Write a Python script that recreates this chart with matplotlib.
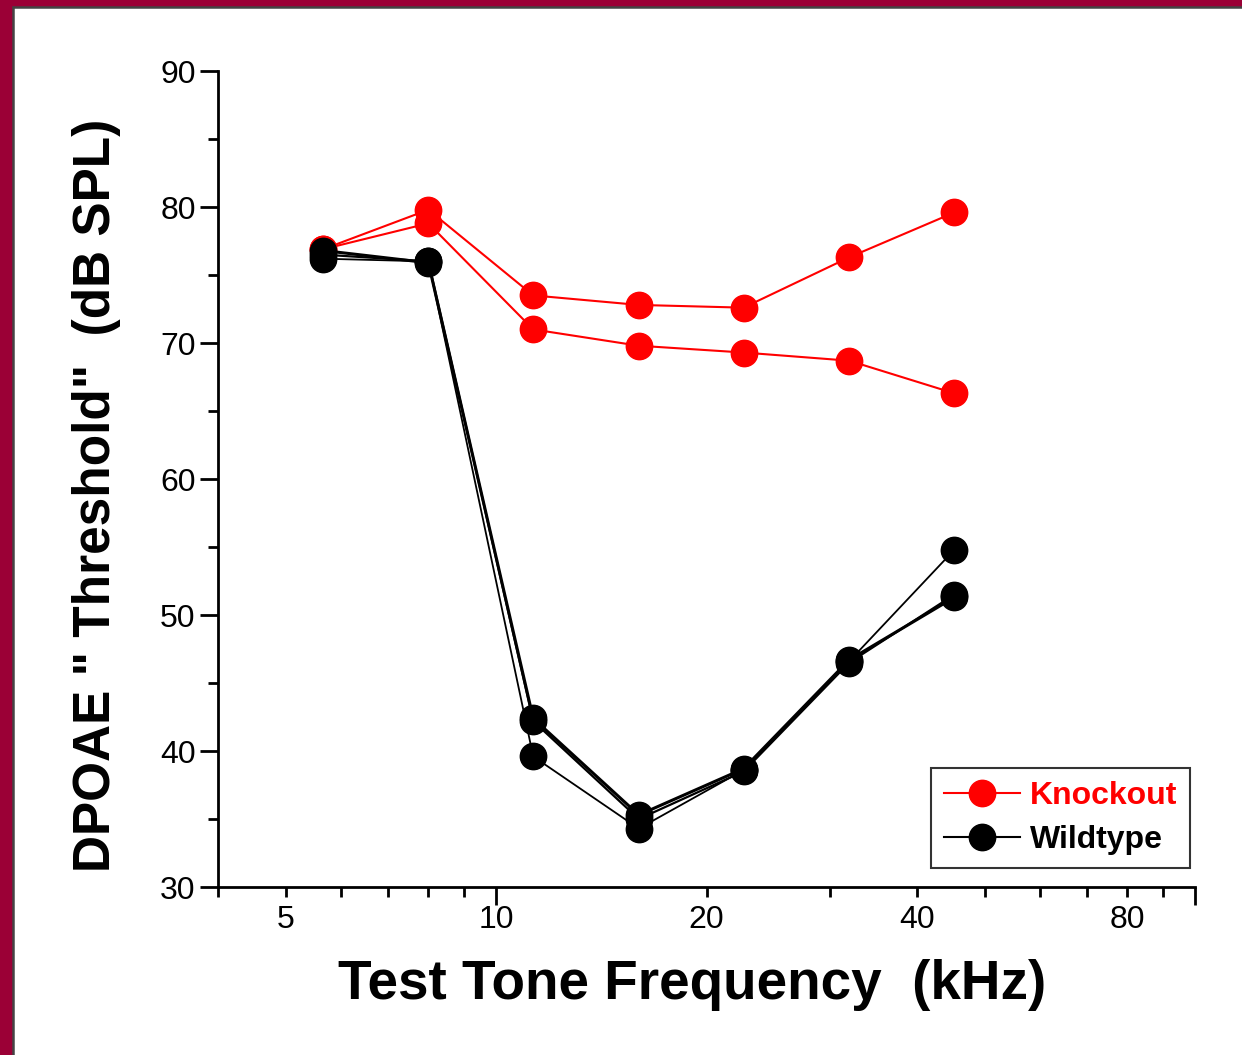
import numpy as np
import matplotlib.pyplot as plt
from matplotlib.patches import Rectangle
from matplotlib.lines import Line2D
from matplotlib.ticker import LogLocator, FixedLocator, FixedFormatter, MultipleLocator

plt.rcParams['font.family'] = ['Liberation Sans', 'DejaVu Sans']

# test frequencies (kHz), half-octave steps
freq = [5.66, 8.0, 11.3, 16.0, 22.6, 32.0, 45.25]

# DPOAE thresholds (dB SPL)
ko_a = [76.9, 79.8, 73.5, 72.8, 72.6, 76.3, 79.6]
ko_b = [76.9, 78.8, 71.0, 69.8, 69.3, 68.7, 66.3]
wt_a = [76.8, 75.9, 42.4, 35.3, 38.7, 46.7, 51.3]
wt_b = [76.5, 76.0, 42.2, 35.0, 38.5, 46.5, 51.5]
wt_c = [76.2, 76.0, 39.6, 34.3, 38.6, 46.6, 54.8]

xtick_vals = [5, 10, 20, 40, 80]
xtick_labels = ['5', '10', '20', '40', '80']

RED = '#ff0000'
fig = plt.figure(figsize=(12.42, 10.55), dpi=100)

# maroon frame on top and left edges
fig.patches.append(Rectangle((0, 0), 1, 1, transform=fig.transFigure,
                             facecolor='#9b0036', edgecolor='none', zorder=0))
fig.patches.append(Rectangle((0.0105, -0.05), 1.05, 1.043, transform=fig.transFigure,
                             facecolor='white', edgecolor='#444444', lw=1.8, zorder=1))

ax = fig.add_axes([0.1755, 0.1592, 0.7867, 0.7735])
ax.set_zorder(2)
ax.patch.set_alpha(0)

ms = 19
for y in (ko_a, ko_b):
    ax.plot(freq, y, '-o', color=RED, lw=1.5, ms=ms, zorder=3)
ax.plot(freq, wt_a, '-o', color='black', lw=2.2, ms=ms, zorder=4)
ax.plot(freq, wt_b, '-o', color='black', lw=1.6, ms=ms, zorder=4)
ax.plot(freq, wt_c, '-o', color='black', lw=1.3, ms=ms, zorder=4)

ax.set_xscale('log')
ax.set_xlim(4, 100)
ax.set_ylim(30, 90)

ax.xaxis.set_major_locator(FixedLocator([10, 100]))
ax.xaxis.set_major_formatter(FixedFormatter(['', '']))
ax.xaxis.set_minor_locator(LogLocator(base=10, subs=np.arange(2, 10)))
ax.xaxis.set_minor_formatter(plt.NullFormatter())
for v, lab in zip(xtick_vals, xtick_labels):
    ax.text(v, -0.022, lab, transform=ax.get_xaxis_transform(),
            ha='center', va='top', fontsize=23)

ax.yaxis.set_major_locator(MultipleLocator(10))
ax.yaxis.set_minor_locator(MultipleLocator(5))

for s in ('top', 'right'):
    ax.spines[s].set_visible(False)
for s in ('left', 'bottom'):
    ax.spines[s].set_linewidth(2)

ax.tick_params(which='major', length=13, width=2, direction='out', labelsize=23, pad=3)
ax.tick_params(which='minor', length=7, width=2, direction='out')

fig.text(0.557, 1 - 985 / 1055, 'Test Tone Frequency  (kHz)', fontsize=39.5,
         fontweight='bold', ha='center', va='center')
fig.text(97 / 1242, 1 - 495 / 1055, 'DPOAE " Threshold"  (dB SPL)', fontsize=37,
         fontweight='bold', ha='center', va='center', rotation=90)

handles = [Line2D([], [], color=RED, marker='o', ms=19, lw=1.5),
           Line2D([], [], color='black', marker='o', ms=19, lw=1.5)]
leg = ax.legend(handles, ['Knockout', 'Wildtype'], loc='lower right',
                bbox_to_anchor=(0.995, 0.023), borderaxespad=0, frameon=True,
                fancybox=False, prop={'size': 23, 'weight': 'bold'}, handlelength=2.4,
                handletextpad=0.3, borderpad=0.4, labelspacing=0.45)
leg.get_frame().set_edgecolor('black')
leg.get_frame().set_linewidth(1.5)
leg.get_texts()[0].set_color(RED)

fig.savefig('out.png', dpi=100)
